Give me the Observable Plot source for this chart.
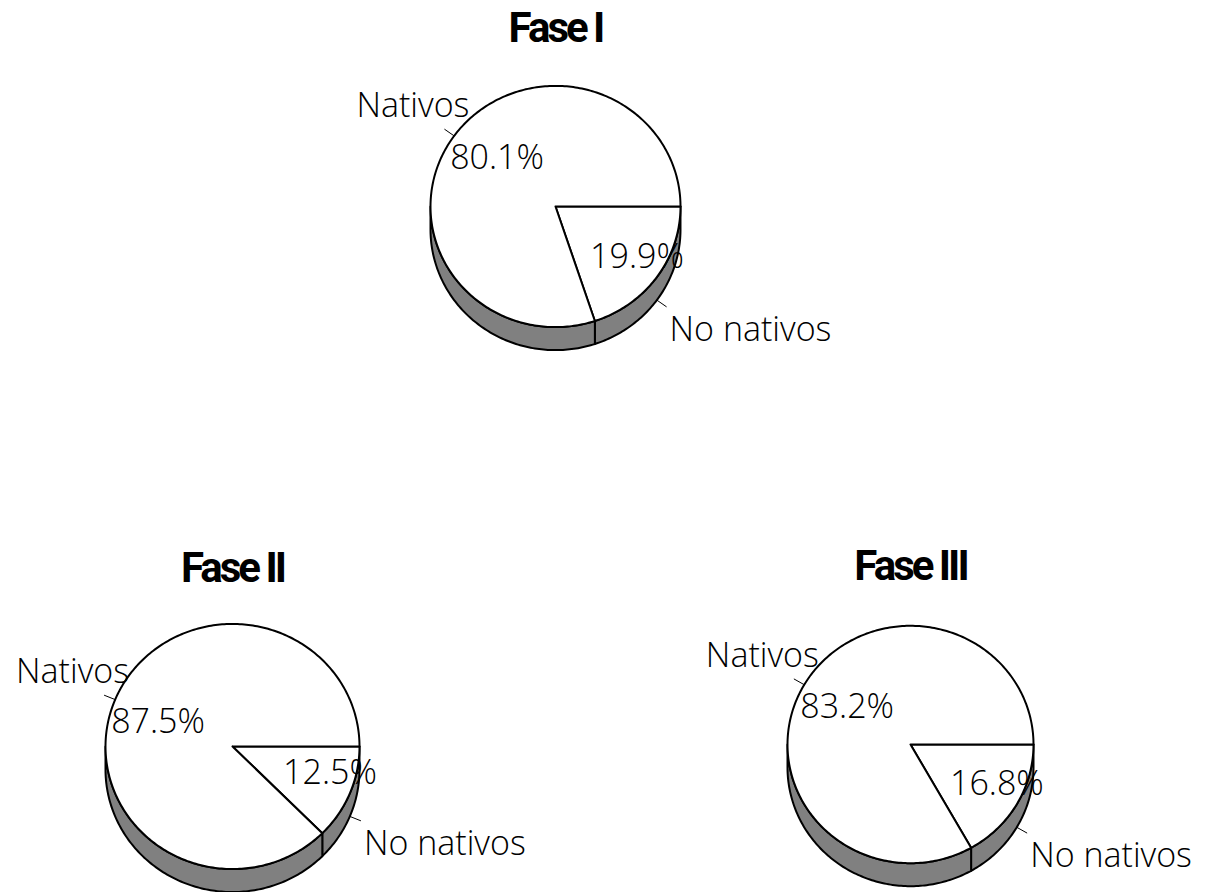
<!DOCTYPE html>
<html><head><meta charset="utf-8">
<script src="https://cdn.jsdelivr.net/npm/d3@7"></script>
<script src="https://cdn.jsdelivr.net/npm/@observablehq/plot@0.6"></script>
<style>body{margin:0;background:#fff} svg{display:block}</style>
</head><body><div id="chart"></div>
<script>
// ---- data ----
const phases = ["Fase I", "Fase II", "Fase III"];
const categories = ["No nativos", "Nativos"];
const noNativos = [19.9, 12.5, 16.8];
const nativos = [80.1, 87.5, 83.2];

// ---- layout (not data) ----
const W = 1227, H = 892;
const layout = [
  {cx: 555, cy: 206, rx: 125},
  {cx: 232, cy: 746, rx: 127},
  {cx: 910, cy: 744, rx: 123}
];
const tilt = 0.965, depth = 23;
const labelFont = "'Open Sans', 'DejaVu Sans', sans-serif";
const titleFont = "Roboto, 'Liberation Sans Narrow', 'DejaVu Sans Condensed', sans-serif";

const polys = [];
const links = [];
const catLabels = [];
const pctLabels = [];
const titles = [];

const pie = d3.pie().sort(null).startAngle(Math.PI / 2).endAngle(Math.PI / 2 + 2 * Math.PI);

phases.forEach((phase, i) => {
  const L = layout[i];
  const ry = L.rx * tilt;
  const pt = (t, dz = 0) => ({x: L.cx + L.rx * Math.cos(t), y: L.cy + ry * Math.sin(t) + dz});
  const arcs = pie([noNativos[i], nativos[i]]);
  titles.push({x: L.cx, y: L.cy - 165, text: phase});
  arcs.forEach((a, k) => {
    const cat = categories[k];
    const t0 = a.startAngle - Math.PI / 2, t1 = a.endAngle - Math.PI / 2;
    const n = Math.max(2, Math.ceil((t1 - t0) / (Math.PI / 180)));
    const s = Math.max(t0, 0), e = Math.min(t1, Math.PI);
    if (s < e) {
      const id = `wall-${i}-${k}`;
      const m = Math.max(2, Math.ceil((e - s) / (Math.PI / 180)));
      const ring = [];
      for (let j = 0; j <= m; j++) ring.push(pt(s + (e - s) * j / m));
      for (let j = m; j >= 0; j--) ring.push(pt(s + (e - s) * j / m, depth));
      ring.push(ring[0]);
      ring.forEach(p => polys.push({id, layer: "wall", ...p}));
    }
    const id = `top-${i}-${k}`;
    const ring = [{x: L.cx, y: L.cy}];
    for (let j = 0; j <= n; j++) ring.push(pt(t0 + (t1 - t0) * j / n));
    ring.push({x: L.cx, y: L.cy});
    ring.forEach(p => polys.push({id, layer: "top", ...p}));
    const tm = (t0 + t1) / 2;
    const lower = Math.sin(tm) > 0;
    const P = pt(tm);
    const Pin = lower ? {x: P.x, y: P.y + depth} : P;
    const Pout = {x: Pin.x + 12 * Math.cos(tm), y: Pin.y + 12 * Math.sin(tm) * tilt};
    links.push({x1: Pin.x, y1: Pin.y, x2: Pout.x, y2: Pout.y});
    const pct = (a.data).toFixed(1) + "%";
    if (lower) {
      catLabels.push({x: Pout.x + 3, y: Pout.y + 34, text: cat, anchor: "start"});
      pctLabels.push({x: P.x + 27, y: P.y - 9, text: pct, anchor: "end"});
    } else {
      catLabels.push({x: Pout.x + 25, y: Pout.y - 12, text: cat, anchor: "end"});
      pctLabels.push({x: P.x - 4, y: P.y + 33, text: pct, anchor: "start"});
    }
  });
});

const labelStyle = {x: "x", y: "y", text: "text", lineAnchor: "bottom", fontSize: 34, fontWeight: 300, fontFamily: labelFont, fill: "black"};

const chart = Plot.plot({
  width: W, height: H,
  margin: 0,
  x: {type: "linear", domain: [0, W], range: [0, W], axis: null},
  y: {type: "linear", domain: [0, H], range: [0, H], axis: null},
  marks: [
    Plot.line(polys.filter(d => d.layer === "wall"), {x: "x", y: "y", z: "id", fill: "#808080", stroke: "black", strokeWidth: 2, curve: "linear"}),
    Plot.line(polys.filter(d => d.layer === "top"), {x: "x", y: "y", z: "id", fill: "white", stroke: "black", strokeWidth: 2, curve: "linear"}),
    Plot.link(links, {x1: "x1", y1: "y1", x2: "x2", y2: "y2", stroke: "black", strokeWidth: 1}),
    Plot.text(titles, {x: "x", y: "y", text: "text", textAnchor: "middle", lineAnchor: "bottom", fontSize: 42, fontWeight: "bold", fontFamily: titleFont, fill: "black"}),
    Plot.text(catLabels.filter(d => d.anchor === "start"), {...labelStyle, textAnchor: "start"}),
    Plot.text(catLabels.filter(d => d.anchor === "end"), {...labelStyle, textAnchor: "end"}),
    Plot.text(pctLabels.filter(d => d.anchor === "start"), {...labelStyle, textAnchor: "start"}),
    Plot.text(pctLabels.filter(d => d.anchor === "end"), {...labelStyle, textAnchor: "end"})
  ]
});
// condensed title look
chart.querySelectorAll("text").forEach(t => {
  if (phases.includes(t.textContent)) t.style.letterSpacing = "-3px";
});
document.getElementById("chart").appendChild(chart);
</script>
</body></html>
